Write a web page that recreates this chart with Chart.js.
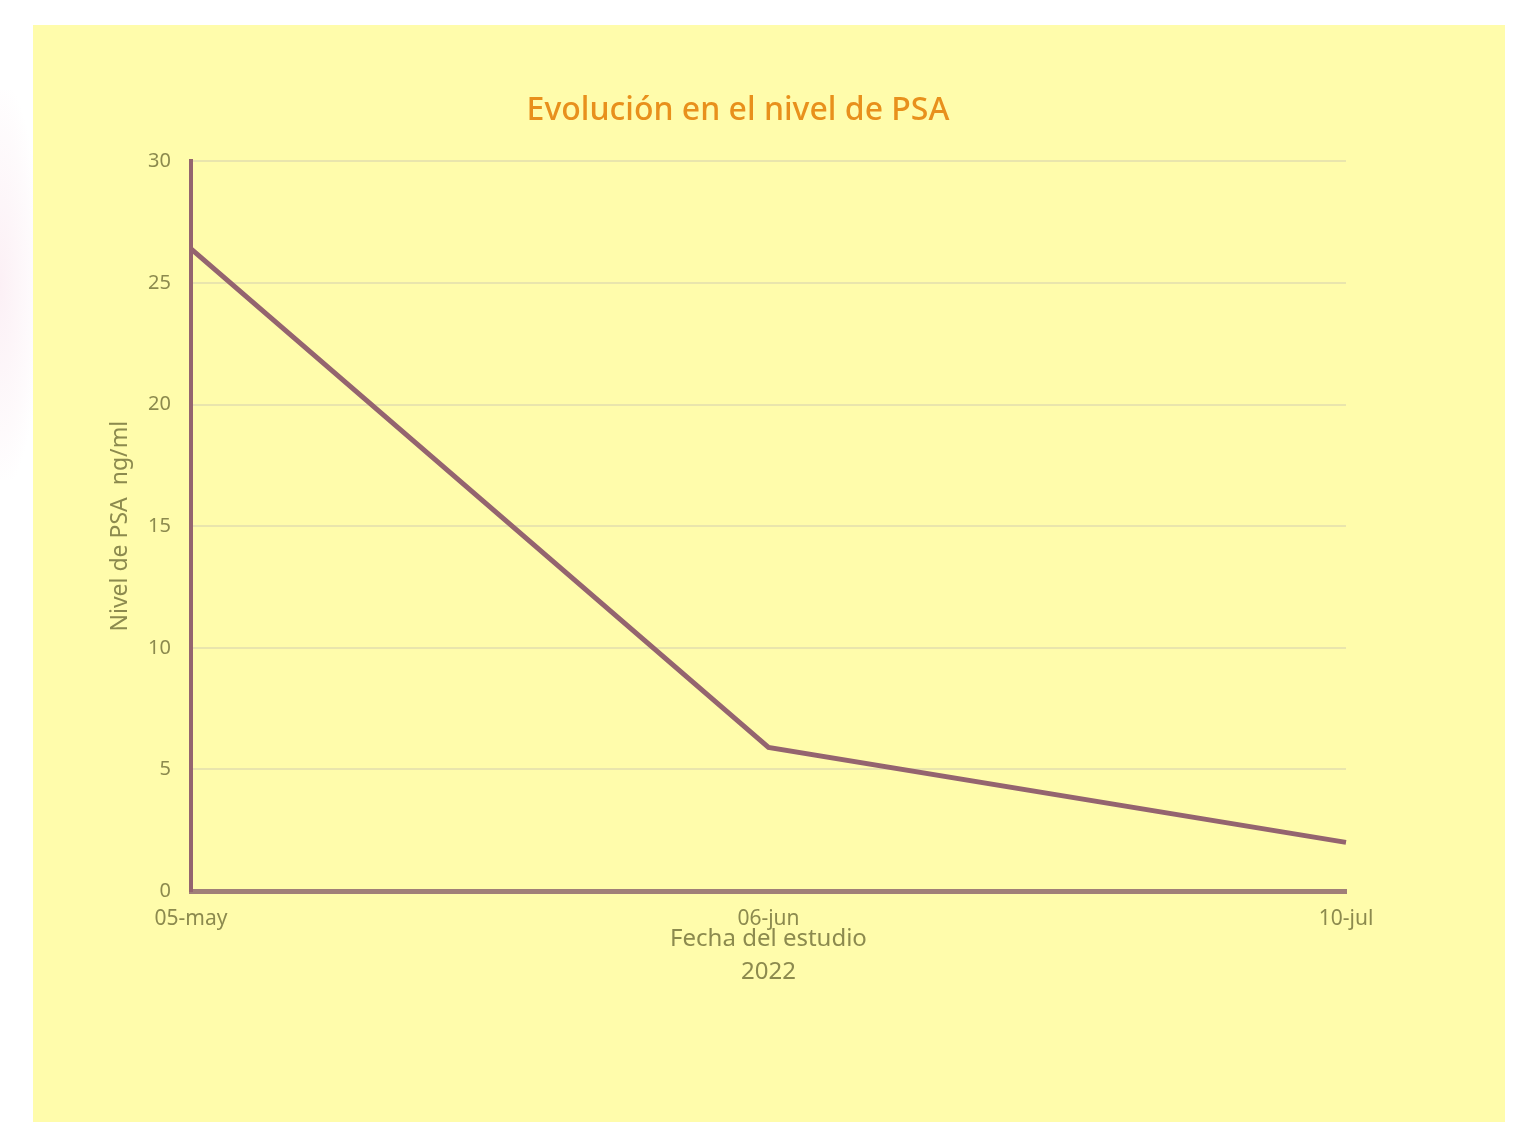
<!DOCTYPE html>
<html>
<head>
<meta charset="utf-8">
<script src="https://cdn.jsdelivr.net/npm/chart.js@4.4.1/dist/chart.umd.min.js"></script>
<style>
  html, body { margin: 0; padding: 0; background: #fff; }
  #blob {
    position: absolute; left: -40px; top: 90px; width: 80px; height: 390px;
    background: radial-gradient(ellipse at center, rgba(248,222,234,0.45) 0%, rgba(250,232,240,0.2) 55%, rgba(255,255,255,0) 75%);
  }
  #panel {
    position: absolute; left: 33px; top: 25px; width: 1472px; height: 1097px;
    background: #fffcab;
  }
</style>
</head>
<body>
<div id="blob"></div>
<div id="panel"><canvas id="psa"></canvas></div>
<script>
// fechas del estudio y nivel de PSA (ng/ml)
var fechas = ['05-may', '06-jun', '10-jul'];
var nivelPSA = [26.4, 5.9, 2.0];
var yTicks = [0, 5, 10, 15, 20, 25, 30];

var textColor = '#8c8a4e';
var lineColor = '#94646f';
var fontFamily = '"Noto Sans", "Open Sans", sans-serif';

var ctx = document.getElementById('psa').getContext('2d');
var chart = new Chart(ctx, {
  type: 'line',
  data: {
    labels: fechas,
    datasets: [{
      label: 'Nivel de PSA',
      data: nivelPSA,
      borderColor: lineColor,
      borderWidth: 5,
      pointRadius: 0,
      tension: 0,
      fill: false
    }]
  },
  options: {
    responsive: true,
    maintainAspectRatio: false,
    animation: false,
    // left/right padding also centres the chart title where the original has it
    layout: { padding: { left: 97, right: 159, top: 0, bottom: 133 } },
    plugins: {
      legend: { display: false },
      tooltip: { enabled: false },
      title: {
        display: true,
        text: 'Evolución en el nivel de PSA',
        color: '#e8901c',
        font: { family: fontFamily, size: 32, weight: '500' },
        padding: { top: 67, bottom: 31 }
      }
    },
    scales: {
      x: {
        offset: false,
        grid: { display: false, drawTicks: false },
        border: { display: true, color: '#a07f78', width: 5 },
        ticks: {
          color: textColor,
          padding: 15,
          maxRotation: 0,
          font: { family: fontFamily, size: 21 }
        },
        title: {
          display: true,
          text: ['Fecha del estudio', '2022'],
          color: textColor,
          padding: { top: 0, bottom: 0 },
          font: { family: fontFamily, size: 24, lineHeight: 1.375 }
        },
        afterFit: function (scale) { scale.height = 98; }
      },
      y: {
        min: 0,
        max: 30,
        afterBuildTicks: function (scale) {
          scale.ticks = yTicks.map(function (v) { return { value: v }; });
        },
        grid: { color: '#e9e5ad', lineWidth: 2, drawTicks: false },
        border: { display: true, color: lineColor, width: 4 },
        ticks: {
          color: textColor,
          padding: 20,
          font: { family: fontFamily, size: 20 }
        },
        title: {
          display: true,
          text: 'Nivel de PSA  ng/ml',
          color: textColor,
          padding: { top: -23, bottom: 0 },
          font: { family: fontFamily, size: 23 }
        },
        afterFit: function (scale) { scale.width = 61; }
      }
    }
  }
});
</script>
</body>
</html>
